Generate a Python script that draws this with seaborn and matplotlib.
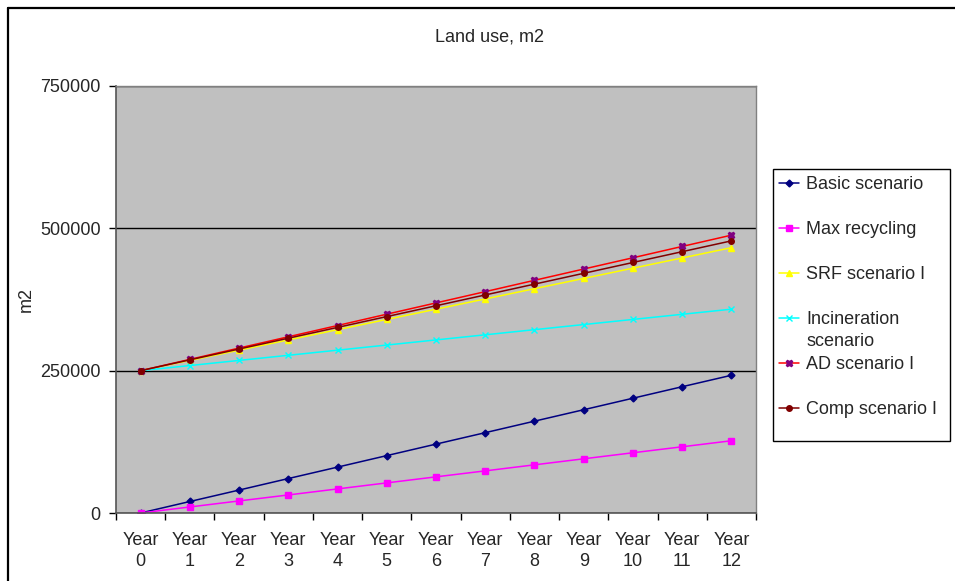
import numpy as np
import pandas as pd
import matplotlib
matplotlib.use("Agg")
import matplotlib.pyplot as plt
from matplotlib.lines import Line2D
from matplotlib.patches import Rectangle
import seaborn as sns

year_labels = ["Year\n0", "Year\n1", "Year\n2", "Year\n3", "Year\n4", "Year\n5", "Year\n6",
               "Year\n7", "Year\n8", "Year\n9", "Year\n10", "Year\n11", "Year\n12"]
year_idx = [0, 1, 2, 3, 4, 5, 6, 7, 8, 9, 10, 11, 12]

basic = [0, 20200, 40300, 60500, 80600, 100800, 121000, 141100, 161300, 181400, 201600, 221800, 241900]
max_recycling = [0, 10600, 21200, 31700, 42300, 52900, 63500, 74000, 84600, 95200, 105800, 116300, 126900]
srf = [250000, 268000, 286000, 304000, 322000, 340000, 358000, 376000, 394000, 412000, 430000, 448000, 466000]
incineration = [250000, 259000, 268000, 277000, 286000, 295000, 304000, 313000, 322000, 331000, 340000, 349000, 358000]
ad = [250000, 269800, 289700, 309500, 329300, 349200, 369000, 388800, 408700, 428500, 448300, 468200, 488000]
comp = [250000, 269000, 288000, 307000, 326000, 345000, 364000, 383000, 402000, 421000, 440000, 459000, 478000]

series_names = ["Basic scenario", "Max recycling", "SRF scenario I",
                "Incineration", "AD scenario I", "Comp scenario I"]
series_values = [basic, max_recycling, srf, incineration, ad, comp]

# line colour, marker, marker colour, marker size
styles = {
    "Basic scenario": ("#000080", "D", "#000080", 3.5),
    "Max recycling": ("#FF00FF", "s", "#FF00FF", 4),
    "SRF scenario I": ("#FFFF00", "^", "#FFFF00", 5),
    "Incineration": ("#00FFFF", "x", "#00FFFF", 5),
    "AD scenario I": ("#FF0000", "X", "#800080", 5),
    "Comp scenario I": ("#800000", "o", "#800000", 4),
}

rows = []
for name, vals in zip(series_names, series_values):
    for x, v in zip(year_idx, vals):
        rows.append({"year": x, "value": v, "series": name})
df = pd.DataFrame(rows)

sns.set_style("white")
plt.rcParams["font.family"] = ["Liberation Sans", "DejaVu Sans"]

fig = plt.figure(figsize=(9.55, 5.81), dpi=100)
ax = fig.add_axes([116 / 955, 1 - 513 / 581, 640 / 955, 427 / 581])
ax.set_facecolor("#C0C0C0")

for name in series_names:
    lc, mk, mc, ms = styles[name]
    sub = df[df["series"] == name]
    sns.lineplot(data=sub, x="year", y="value", ax=ax, color=lc, lw=1.1,
                 marker=mk, markersize=ms, markerfacecolor=mc, markeredgecolor=mc,
                 markeredgewidth=1, sort=False, errorbar=None, label=name, legend=False)

ax.set_xlim(-0.5, 12.5)
ax.set_ylim(0, 750000)
ax.set_yticks([0, 250000, 500000, 750000])
ax.set_yticklabels(["0", "250000", "500000", "750000"])
ax.set_xticks(year_idx)
ax.set_xticklabels(year_labels, linespacing=1.3)
ax.set_xticks(np.arange(-0.5, 13, 1), minor=True)
ax.tick_params(axis="x", which="major", length=0, pad=14, labelsize=13)
ax.tick_params(axis="x", which="minor", length=5, width=1, direction="out", color="#000000", bottom=True)
ax.tick_params(axis="y", length=5, width=1, direction="out", pad=6, labelsize=13, color="#000000", left=True)
ax.yaxis.grid(True, color="black", lw=1)
ax.xaxis.grid(False)
ax.set_axisbelow(True)
for side in ["left", "bottom"]:
    ax.spines[side].set_color("#555555")
    ax.spines[side].set_linewidth(1.2)
for side in ["top", "right"]:
    ax.spines[side].set_color("#808080")
    ax.spines[side].set_linewidth(1)

ax.set_xlabel("")
ax.set_ylabel("m2", fontsize=13)
ax.yaxis.set_label_coords((35 - 116) / 640, 0.5)

fig.text(489 / 955, 1 - 42 / 581, "Land use, m2", ha="center", va="baseline", fontsize=13)

leg = ax.legend(loc="upper left", bbox_to_anchor=(773 / 955, 1 - 170 / 581),
                bbox_transform=fig.transFigure, borderaxespad=0, fontsize=13,
                frameon=False, labelspacing=1.55, handlelength=1.1,
                handletextpad=0.4, borderpad=0.35)

# legend box and second line of the incineration label
fig.add_artist(Rectangle((773 / 955, 1 - 441 / 581), 177 / 955, 272 / 581,
                         transform=fig.transFigure, fill=False, edgecolor="black", lw=1))
fig.canvas.draw()
inc_text = [t for t in leg.get_texts() if t.get_text() == "Incineration"][0]
bb = inc_text.get_window_extent()
fig.text(bb.x0 / 955, (bb.y0 - 22) / 581, "scenario", ha="left", va="bottom", fontsize=13)

# outer chart frame (top and left edges)
fig.add_artist(Line2D([8 / 955, 1], [1 - 8 / 581, 1 - 8 / 581], color="black", lw=1.6))
fig.add_artist(Line2D([8 / 955, 8 / 955], [0, 1 - 8 / 581], color="black", lw=1.6))

fig.savefig("out.png", dpi=100)
